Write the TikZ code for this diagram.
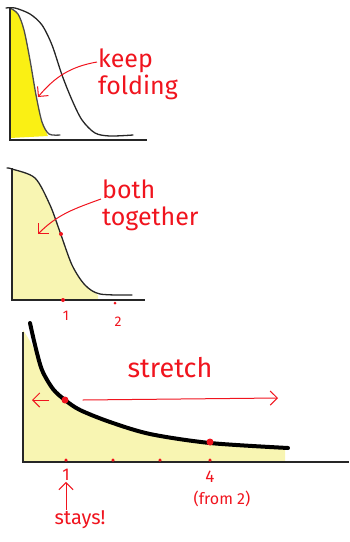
\documentclass[tikz,border=0pt]{standalone}
\usepackage{fontspec}
\setmainfont{Fira Sans}
\usetikzlibrary{arrows.meta, positioning}
\definecolor{inkred}{RGB}{240,20,30}
\definecolor{hotyellow}{RGB}{250,240,20}
\definecolor{paleyellow}{RGB}{248,245,178}
\tikzset{
  axis/.style={line width=1.2pt, black!85},
  curve/.style={line width=1.3pt, black!85, line cap=round},
  fatcurve/.style={line width=4pt, black, line cap=round},
  note/.style={text=inkred, font=\fontsize{25}{27}\selectfont, align=left, inner sep=1pt},
  tick/.style={text=inkred, font=\fontsize{14}{16}\selectfont, inner sep=1pt},
  redarr/.style={-{Straight Barb[length=2.5mm]}, inkred, line width=1pt},
  reddot/.style={circle, fill=inkred, inner sep=0pt, minimum size=#1},
  reddot/.default=4pt,
}
\begin{document}
\begin{tikzpicture}[x=1pt, y=-1pt]
\useasboundingbox (0,0) rectangle (349,542);
% top: folding
\fill[hotyellow] (10,8) plot[smooth] coordinates {(10,8) (18,14) (24,30) (30,60) (36,95) (42,122) (48,136)} -- (10,138) -- cycle;
\draw[curve, black!70] plot[smooth] coordinates {(10,8) (18,14) (24,30) (30,60) (36,95) (42,122) (49,134) (60,135)};
\draw[curve] plot[smooth] coordinates {(6,8) (15,8) (30,14) (42,25) (52,45) (62,75) (72,100) (82,120) (95,133) (110,136) (133,135)};
\draw[axis] (10,8) -- (10,140) -- (147,140);
\node[note, anchor=north west] (keep) at (97,48) {keep\\folding};
\coordinate (keeptip) at (38,97);
\draw[redarr] (keep.west |- 0,62) to[out=190, in=50] (keeptip);
% middle: together
\fill[paleyellow] (12,169) plot[smooth] coordinates {(12,169) (35,178) (50,205) (60,232) (72,265) (85,285) (98,295)} -- (98,299) -- (12,299) -- cycle;
\draw[curve] plot[smooth] coordinates {(7,168) (12,169) (35,178) (50,205) (60,232) (72,265) (85,285) (100,294) (132,295)};
\draw[axis] (12,168) -- (12,300) -- (145,300);
\node[reddot] (meet) at (61,234) {};
\node[note, anchor=north west] (both) at (101,179) {both\\together};
\coordinate (bothtip) at (38,234);
\draw[redarr] (both.west |- 0,199) to[out=200, in=45] (bothtip);
\node[reddot] (t1) at (63,300) {};
\node[reddot=3pt] (t2) at (115,303) {};
\node[tick] (one) at (66,316) {1};
\node[tick] at (118,322) {2};
% bottom: stretch
\fill[paleyellow] (23,330) plot[smooth] coordinates {(23,330) (32,345) (42,370) (55,392) (65,400) (80,410) (110,422) (150,433) (210,442) (285,448)} -- (285,461) -- (23,461) -- cycle;
\draw[fatcurve] plot[smooth] coordinates {(30,323) (35,345) (42,370) (53,389) (65,400) (80,410) (110,422) (150,434) (210,443) (288,448)};
\draw[axis] (23,332) -- (23,462) -- (349,462);
\node[reddot=7pt] (one4) at (65,400) {};
\node[reddot=7pt] (four) at (210,442) {};
\foreach \xx in {66,113,160,210}
  \node[reddot=3.5pt] (b\xx) at (\xx,460) {};
\node[note, font=\fontsize{27}{29}\selectfont] (stretch) at (170,368) {stretch};
\draw[redarr] (one4.east) ++(14,0) coordinate (sfrom) -- (278,398) coordinate (sto);
\draw[redarr] (one4.west) ++(-12,0) coordinate (lfrom) -- (32,400) coordinate (lto);
\node[tick, font=\fontsize{17}{19}\selectfont] (lone) at (66,475) {1};
\node[note, font=\fontsize{20}{22}\selectfont] (stays) at (80,520) {stays!};
\draw[redarr] (stays.north -| lone) -- (lone.south);
\node[tick, font=\fontsize{17}{19}\selectfont] (lfour) at (210,477) {4};
\node[tick, font=\fontsize{16}{18}\selectfont] (from) at (222,499) {(from 2)};
\end{tikzpicture}
\end{document}
